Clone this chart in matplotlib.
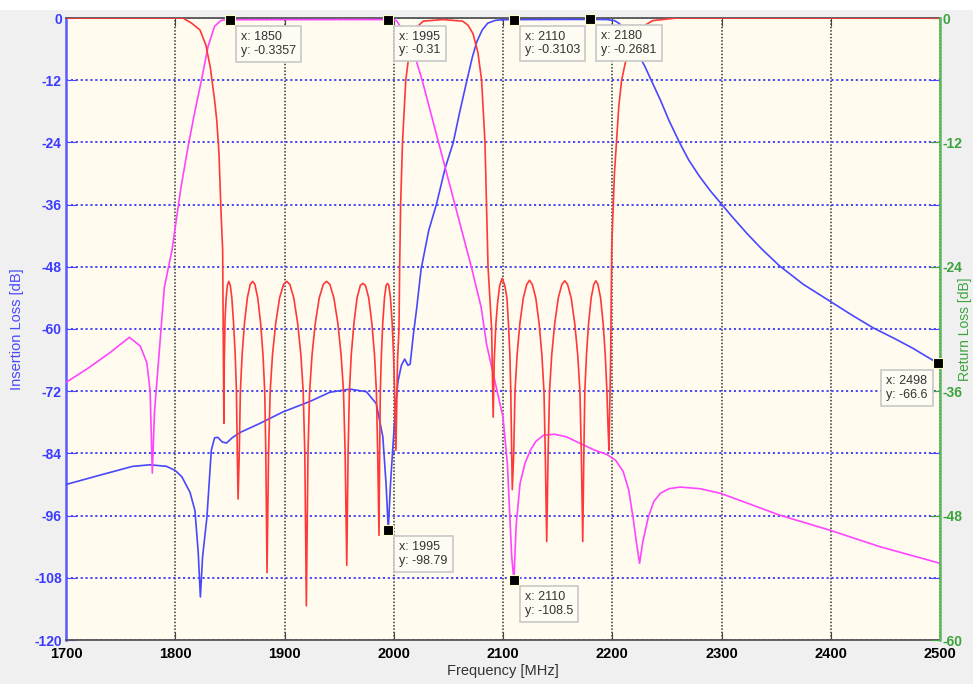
import matplotlib
matplotlib.use('Agg')
import matplotlib.pyplot as plt
from matplotlib.patches import Rectangle

plt.rcParams['font.family'] = ['Liberation Sans', 'DejaVu Sans']
plt.rcParams['axes.unicode_minus'] = False

# Tx filter insertion loss (magenta), left axis [dB]
tx_freq = [1700, 1720, 1740, 1758, 1768, 1774, 1777, 1779, 1781, 1784, 1790, 1797,
           1805, 1812, 1818, 1824, 1830, 1836, 1842, 1850, 1900, 1950, 1995, 2002.6,
           2008.5, 2016, 2026, 2041, 2056, 2071, 2080, 2085, 2091, 2100, 2104, 2106,
           2108, 2110, 2112, 2115.6, 2120, 2125, 2130, 2137, 2147, 2158, 2170, 2183,
           2195, 2203, 2210, 2215, 2219, 2222, 2225, 2228, 2233, 2238, 2244, 2252,
           2262, 2280, 2299, 2325, 2353, 2399, 2445, 2500]
tx_il = [-70.3, -67.6, -64.6, -61.6, -63.3, -66.5, -72, -87.8, -76, -68, -52, -44.8,
         -33, -24.5, -18, -12, -5.5, -1.6, -0.45, -0.34, -0.32, -0.31, -0.31, -0.5,
         -2.5, -5, -12, -24, -36, -48, -55.8, -63, -68.6, -77, -86, -95,
         -104, -108.5, -98, -89.8, -86, -83.4, -81.7, -80.5, -80.3, -80.8, -82, -83.3,
         -84.2, -85.3, -87.5, -91, -96.3, -101, -105.2, -101, -96.3, -93.3, -91.7, -90.8,
         -90.5, -90.8, -91.7, -93.7, -95.9, -98.8, -102, -105.2]

# Rx filter insertion loss (blue), left axis [dB]
rx_freq = [1700, 1731, 1761, 1777, 1792, 1800, 1806, 1813.5, 1818, 1821, 1823, 1825,
           1829, 1833, 1836, 1839, 1843, 1847, 1852, 1859, 1877.6, 1898.6, 1923, 1941.6,
           1960, 1975, 1984, 1990, 1993, 1995, 1997, 1999, 2002, 2004, 2007, 2010,
           2013, 2015, 2018, 2021, 2025, 2032, 2039, 2047, 2054.5, 2060, 2067, 2072,
           2076, 2081, 2086, 2093, 2100, 2110, 2150, 2180, 2195, 2202, 2206, 2210,
           2215, 2220, 2225, 2230, 2237, 2244, 2252, 2262, 2270, 2280, 2290, 2300,
           2310, 2323, 2337, 2353, 2375, 2399, 2420, 2439, 2458, 2475, 2498, 2500]
rx_il = [-90, -88.2, -86.5, -86.2, -86.5, -87.3, -88.5, -91.5, -95, -103, -111.7, -104,
         -96.3, -83.4, -81, -80.9, -81.8, -82, -81, -80, -78.2, -76, -74, -72.2,
         -71.6, -72.1, -74.4, -80.8, -90, -98.79, -90, -83.4, -74, -70, -67, -65.8,
         -67, -66.8, -61, -56, -48.5, -41, -36, -29, -24, -18.5, -12, -7.5,
         -4.6, -2.3, -1, -0.45, -0.33, -0.31, -0.28, -0.27, -0.3, -0.5, -1, -1.8,
         -3.2, -5.2, -7.4, -9.4, -12.6, -15.8, -19.8, -24.2, -27.4, -30.6, -33.4, -35.9,
         -38.4, -41.5, -44.6, -47.8, -51.4, -54.6, -57.4, -59.8, -61.8, -63.7, -66.6, -66.8]

# common port return loss (red), right axis [dB]
rl_freq = [1700, 1807, 1815, 1822.6, 1828, 1832, 1836, 1838, 1840, 1842, 1843.4, 1844.5,
           1844.9, 1845.6, 1846.6, 1847.7, 1849, 1850.4, 1851.8, 1853.4, 1854.9, 1856, 1856.8, 1857.5,
           1858.6, 1859.6, 1861.2, 1863.3, 1866, 1868.6, 1870.8, 1872.9, 1875.5, 1878.2, 1880.3, 1881.9, 1882.9, 1884,
           1885.4, 1886.9, 1889, 1891.9, 1895.5, 1899.1, 1902, 1904.9, 1908.5, 1912.1, 1915, 1917.1, 1918.6, 1920,
           1921.5, 1923, 1925.2, 1928.1, 1931.8, 1935.5, 1938.5, 1941.5, 1945.2, 1948.9, 1951.8, 1954, 1955.5, 1957,
           1958.2, 1959.4, 1961.1, 1963.5, 1966.4, 1969.4, 1971.8, 1974.1, 1977.1, 1980, 1982.4, 1984.1, 1985.3, 1986.5,
           1987.1, 1987.7, 1988.7, 1989.9, 1991.5, 1993, 1994.3, 1995.5, 1997, 1998.6, 1999.8, 2000.8, 2002,
           2003.5, 2004.8, 2005.4, 2006.3, 2008, 2011, 2014, 2018, 2022, 2027, 2045, 2063,
           2068, 2072.5, 2077, 2080.4, 2083.5, 2086.3, 2088, 2089.6, 2091,
           2092, 2093.5, 2095, 2097, 2099.3, 2101.6, 2103.6, 2105, 2106.3, 2107.1, 2107.8, 2108.5,
           2109.8, 2111, 2112.9, 2115.4, 2118.6, 2121.7, 2124.3, 2126.8, 2130, 2133.1, 2135.6, 2137.5, 2138.7, 2140,
           2141.3, 2142.6, 2144.6, 2147.3, 2150.6, 2153.9, 2156.5, 2159.1, 2162.4, 2165.7, 2168.4, 2170.4, 2171.7, 2173,
           2174, 2174.9, 2176.4, 2178.3, 2180.7, 2183.1, 2185, 2186.9, 2189.3, 2191.7, 2193.6, 2195.1, 2196, 2197,
           2198.5, 2199.5, 2200, 2202, 2204, 2206, 2208.6, 2212, 2216, 2220, 2225, 2230,
           2237, 2259, 2500]
rl_db = [0, 0, -0.5, -1.15, -2.6, -4.7, -7.9, -9.9, -13, -19, -22.4, -39.1,
         -33, -29, -27, -25.8, -25.4, -25.8, -27, -29.5, -32.5, -36, -42, -46.4,
         -42, -36, -32.5, -29.5, -27, -25.7, -25.4, -25.7, -27, -29.5, -32.5, -36, -42, -53.5,
         -42, -36, -32.5, -29.5, -27, -25.7, -25.4, -25.7, -27, -29.5, -32.5, -36, -42, -56.7,
         -42, -36, -32.5, -29.5, -27, -25.7, -25.4, -25.7, -27, -29.5, -32.5, -36, -42, -52.8,
         -42, -36, -32.5, -29.5, -27, -25.8, -25.6, -25.8, -27, -29.5, -32.5, -36, -42, -49.9,
         -42, -36, -32.5, -29.5, -27, -25.8, -25.6, -25.8, -27, -29.5, -32.5, -36, -41.7,
         -33, -30, -24, -18, -12, -6, -3.5, -1.8, -0.8, -0.3, -0.15, -0.3,
         -0.7, -1.5, -3.3, -6, -12, -24, -27, -30, -38.5,
         -33, -29.5, -27.5, -25.8, -25.1, -25.8, -27, -29.5, -32.5, -36, -41, -45.5,
         -42, -36, -32.5, -29.5, -27, -25.7, -25.3, -25.7, -27, -29.5, -32.5, -36, -42, -50.5,
         -42, -36, -32.5, -29.5, -27, -25.7, -25.35, -25.7, -27, -29.5, -32.5, -36, -42, -50.5,
         -42, -36, -32.5, -29.5, -27, -25.7, -25.35, -25.7, -27, -29.5, -32.5, -36, -39, -41.7,
         -33, -22.4, -20.7, -15, -11.7, -8.5, -6, -4.3, -3.1, -2, -1.2, -0.7,
         -0.25, 0, 0]

# data tips
tip_x = [1850, 1995, 2110, 2180, 1995, 2110, 2498]
tip_y = [-0.3357, -0.31, -0.3103, -0.2681, -98.79, -108.5, -66.6]
tip_txt = ['x: 1850\ny: -0.3357', 'x: 1995\ny: -0.31', 'x: 2110\ny: -0.3103',
           'x: 2180\ny: -0.2681', 'x: 1995\ny: -98.79', 'x: 2110\ny: -108.5',
           'x: 2498\ny: -66.6']

il_ticks = list(range(-120, 1, 12))
rl_ticks = list(range(-60, 1, 12))
f_ticks = list(range(1700, 2501, 100))

BLUE = '#4848FF'
PINK = '#FF45FF'
RED = '#FF3838'
GREEN = '#3DA33D'

fig = plt.figure(figsize=(9.73, 6.84), dpi=100, facecolor='#F0F0F0')
fig.patches.append(Rectangle((0, 1 - 10 / 684), 1, 10 / 684, transform=fig.transFigure,
                             facecolor='white', edgecolor='none', zorder=0))
ax1 = fig.add_axes([66 / 973, 44 / 684, 874 / 973, 622 / 684])
ax1.set_facecolor('#FFFBEF')
ax2 = ax1.twinx()

ax1.plot(rx_freq, rx_il, color=BLUE, lw=1.2, zorder=3)
ax1.plot(tx_freq, tx_il, color=PINK, lw=1.2, zorder=3)
ax2.plot(rl_freq, rl_db, color=RED, lw=1.2, zorder=3)

ax1.set_xlim(1700, 2500)
ax1.set_ylim(-120, 0)
ax2.set_ylim(-60, 0)
ax1.set_xticks(f_ticks)
ax1.set_yticks(il_ticks)
ax2.set_yticks(rl_ticks)

ax1.xaxis.grid(True, color='#333333', lw=1.1, ls=(0, (1, 1.2)))
ax1.yaxis.grid(True, color='#3A3AF5', lw=1.3, ls=(0, (1.2, 1.5)))
ax1.set_axisbelow(True)

ax1.tick_params(axis='x', direction='in', top=True, length=6, color='#444444',
                labelcolor='black', labelsize=10.5, pad=5)
ax1.tick_params(axis='y', direction='in', right=True, length=7, color=BLUE,
                labelcolor='#3B3BFF', labelsize=10, pad=3)
ax2.tick_params(axis='y', direction='in', length=7, color=GREEN,
                labelcolor=GREEN, labelsize=10, pad=2)
for lab in ax1.get_xticklabels() + ax1.get_yticklabels() + ax2.get_yticklabels():
    lab.set_fontweight('bold')

for s in ['top', 'bottom']:
    ax1.spines[s].set_color('#555555')
    ax1.spines[s].set_linewidth(1.3)
ax1.spines['left'].set_color('#5A5AFF')
ax1.spines['left'].set_linewidth(1.8)
ax1.spines['right'].set_visible(False)
for s in ['top', 'bottom', 'left']:
    ax2.spines[s].set_visible(False)
ax2.spines['right'].set_color('#5DB55D')
ax2.spines['right'].set_linewidth(1.8)

ax1.set_xlabel('Frequency [MHz]', fontsize=10.5, color='#333333', labelpad=2)
fig.text(17 / 973, 1 - 329 / 684, 'Insertion Loss [dB]', rotation=90, ha='center',
         va='center', fontsize=10.5, color='#4A4AFF')
fig.text(965 / 973, 1 - 329 / 684, 'Return Loss [dB]', rotation=90, ha='center',
         va='center', fontsize=10, color=GREEN)

# data tips drawn on top of everything
for x, y, t in zip(tip_x, tip_y, tip_txt):
    ax2.plot([x], [y], marker='s', ms=7, mfc='black', mec='#FFFFC8', mew=0.8,
             transform=ax1.transData, clip_on=False, zorder=6)
    if x > 2400:
        off, ha = (-10, -12), 'right'
    else:
        off, ha = (11, -11), 'left'
    ax2.annotate(t, xy=(x, y), xycoords=ax1.transData, xytext=off,
                 textcoords='offset pixels', ha=ha, va='top', multialignment='left',
                 fontsize=9, color='#333333', zorder=7, annotation_clip=False,
                 bbox=dict(boxstyle='square,pad=0.4', fc='#FDFBF2', ec='#C8C8C8', lw=1.2))

fig.savefig('out.png', dpi=100, facecolor=fig.get_facecolor())
